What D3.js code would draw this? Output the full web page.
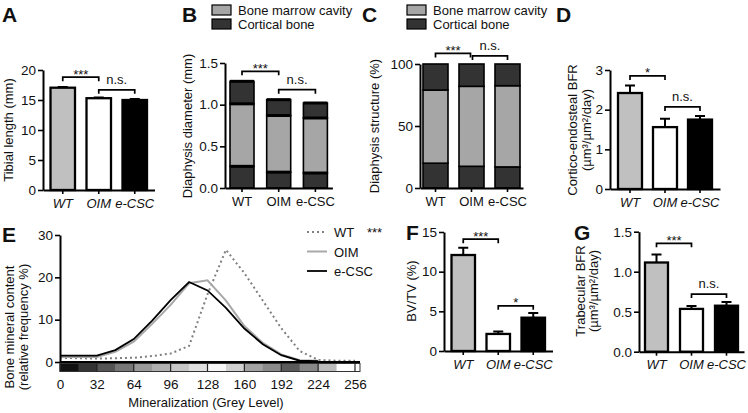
<!DOCTYPE html>
<html><head><meta charset="utf-8">
<script src="https://cdn.jsdelivr.net/npm/d3@7"></script>
<style>
body{margin:0;background:#fff}
svg text{font-family:"Liberation Sans",Arial,sans-serif;fill:#111}
</style>
</head><body>
<svg id="c" width="748" height="413"></svg>
<script>
// ---------- DATA ----------
const groups = ["WT","OIM","e-CSC"];
const groupFill = ["#c0c0c0","#ffffff","#000000"];

// A: tibial length (mm)
const tibialLength = [17.05, 15.3, 15.0];
const tibialErr = [0.1, 0.1, 0.15];
const tibialTicks = [0,5,10,15,20];
const tibialSig = [["WT","OIM","***"],["OIM","e-CSC","n.s."]];

// B: diaphysis diameter (mm) stacked: cortical (inner), marrow cavity, cortical (outer)
const diamCorticalInner = [0.26, 0.19, 0.18];
const diamMarrow = [0.75, 0.68, 0.66];
const diamCorticalOuter = [0.27, 0.19, 0.18];
const diamErr = [0.008, 0.012, 0.006];
const diamTicks = [0,0.5,1.0,1.5];
const diamSig = [["WT","OIM","***"],["OIM","e-CSC","n.s."]];

// C: diaphysis structure (%)
const structCorticalInner = [20, 17.5, 17];
const structMarrow = [59, 64.5, 65.5];
const structCorticalOuter = [21, 18, 17.5];
const structTicks = [0,50,100];
const structSig = [["WT","OIM","***"],["OIM","e-CSC","n.s."]];

// D: cortico-endosteal BFR
const corticalBFR = [2.42, 1.56, 1.75];
const corticalBFRErr = [0.19, 0.21, 0.09];
const corticalBFRTicks = [0,1,2,3];
const corticalBFRSig = [["WT","OIM","*"],["OIM","e-CSC","n.s."]];

// E: bone mineral content histogram
const greyLevels = [0,16,32,48,64,80,96,112,128,144,160,176,192,208,224,240,256];
const wtFreq   = [1.0,0.9,0.8,0.9,1.0,1.4,2.0,3.8,16.0,26.5,21.0,14.5,8.0,2.6,0.5,0.3,0.3];
const oimFreq  = [1.2,1.2,1.2,2.4,4.8,9.0,13.5,18.6,19.3,14.5,8.5,4.5,1.8,0.4,0.3];
const ecscFreq = [1.5,1.5,1.5,2.8,5.4,9.8,14.6,18.9,16.9,12.8,7.9,4.2,1.6,0.3,0.2];
const greyTicks = [0,32,64,96,128,160,192,224,256];
const freqTicks = [0,10,20,30];
const stripGreys = ["#111111","#333333","#555555","#777777","#999999","#b0b0b0","#c6c6c6","#e0e0e0","#f6f6f6","#d0d0d0","#a2a2a2","#8a8a8a","#5a5a5a","#888888","#bcbcbc","#ffffff"];

// F: BV/TV (%)
const bvtv = [12.1, 2.15, 4.2];
const bvtvErr = [0.9, 0.3, 0.6];
const bvtvTicks = [0,5,10,15];
const bvtvSig = [["WT","OIM","***"],["OIM","e-CSC","*"]];

// G: trabecular BFR
const trabBFR = [1.115, 0.535, 0.575];
const trabBFRErr = [0.1, 0.035, 0.045];
const trabBFRTicks = [0,0.5,1.0,1.5];
const trabBFRSig = [["WT","OIM","***"],["OIM","e-CSC","n.s."]];

// ---------- DRAWING ----------
const svg = d3.select("#c");

function band(axisX, firstLeft, step, bw){
  const pi = 1 - bw/step, po = (firstLeft-axisX)/step;
  const r1 = axisX + step*(groups.length - pi + 2*po);
  return d3.scaleBand().domain(groups).range([axisX, r1]).paddingInner(pi).paddingOuter(po);
}
function styleAxis(sel){
  sel.select(".domain").attr("stroke","#000").attr("stroke-width",2);
  sel.selectAll(".tick line").attr("stroke","#000").attr("stroke-width",1.6);
  sel.selectAll(".tick text").style("font-size","13.5px").attr("fill","#111");
}
function axes(g, x, y, ticks, fmt, italic){
  const ya = g.append("g").attr("transform",`translate(${x.range()[0]},0)`)
    .call(d3.axisLeft(y).tickValues(ticks).tickFormat(fmt).tickSize(5).tickSizeOuter(0).tickPadding(2));
  styleAxis(ya);
  const xa = g.append("g").attr("transform",`translate(0,${y(0)})`)
    .call(d3.axisBottom(x).tickSize(4).tickSizeOuter(0).tickPadding(4.5));
  styleAxis(xa);
  xa.selectAll(".tick text").style("font-size","13px").style("font-style", italic ? "italic":"normal");
}
function yTitle(g, lines, xs, cy){
  lines.forEach((t,i)=>{
    g.append("text").attr("transform",`translate(${xs[i]},${cy}) rotate(-90)`)
      .attr("text-anchor","middle").style("font-size","13px").text(t);
  });
}
function letter(t, x, y){
  svg.append("text").attr("x",x).attr("y",y).style("font-size","21px").style("font-weight","bold").attr("fill","#000").text(t);
}
function bracket(g, x, y, a, b, label, level, d1=0, d2=0){
  const x1 = x(a)+x.bandwidth()/2+d1, x2 = x(b)+x.bandwidth()/2+d2, yb = y(level);
  g.append("path").attr("d",`M${x1},${yb+4}V${yb}H${x2}V${yb+4}`)
    .attr("fill","none").attr("stroke","#000").attr("stroke-width",1.7);
  const star = label.includes("*");
  g.append("text").attr("x",(x1+x2)/2).attr("y", star ? yb+1.5 : yb-6)
    .attr("text-anchor","middle").style("font-size","13px").text(label);
}
function simpleBars(g, x, y, vals, errs){
  groups.forEach((k,i)=>{
    const cx = x(k)+x.bandwidth()/2;
    g.append("path").attr("d",`M${cx},${y(vals[i])}V${y(vals[i]+errs[i])}M${cx-5},${y(vals[i]+errs[i])}H${cx+5}`)
      .attr("stroke","#000").attr("stroke-width",2).attr("fill","none");
  });
  g.selectAll(null).data(vals).join("rect")
    .attr("x",(d,i)=>x(groups[i])).attr("width",x.bandwidth())
    .attr("y",d=>y(d)).attr("height",d=>y(0)-y(d))
    .attr("fill",(d,i)=>groupFill[i]).attr("stroke","#000").attr("stroke-width",2.3);
}
function stackedBars(g, x, y, layers, colors, errs){
  const rows = groups.map((k,i)=>({key:k, a:layers[0][i], b:layers[1][i], c:layers[2][i]}));
  const stack = d3.stack().keys(["a","b","c"])(rows);
  stack.forEach((layer,li)=>{
    g.selectAll(null).data(layer).join("rect")
      .attr("x",d=>x(d.data.key)).attr("width",x.bandwidth())
      .attr("y",d=>y(d[1])).attr("height",d=>y(d[0])-y(d[1]))
      .attr("fill",colors[li]).attr("stroke","#000").attr("stroke-width",1.6);
  });
  if(errs){
    stack.forEach(layer=>{
      g.selectAll(null).data(layer).join("rect")
        .attr("x",d=>x(d.data.key)).attr("width",x.bandwidth())
        .attr("y",(d,i)=>Math.min(y(d[1]+errs[i]), y(d[1])-1.5))
        .attr("height",(d,i)=>Math.max(y(d[1]-errs[i])-y(d[1]+errs[i]),3))
        .attr("fill","#000");
    });
  }
}
function legendBoxes(x, y0, dy){
  [["Bone marrow cavity","#a6a6a6"],["Cortical bone","#333333"]].forEach((d,i)=>{
    svg.append("rect").attr("x",x).attr("y",y0+i*dy).attr("width",19).attr("height",10)
      .attr("fill",d[1]).attr("stroke","#000").attr("stroke-width",1.2);
    svg.append("text").attr("x",x+26).attr("y",y0+i*dy+10).style("font-size","13px").text(d[0]);
  });
}

// ---- A ----
{
  const g = svg.append("g");
  const x = band(43, 50.5, 36, 24.5);
  const y = d3.scaleLinear().domain([0,20]).range([190,70]);
  simpleBars(g, x, y, tibialLength, tibialErr);
  axes(g, x, y, tibialTicks, d3.format("d"), true);
  yTitle(g, ["Tibial length (mm)"], [13], 130);
  bracket(g, x, y, ...tibialSig[0], 18.8);
  bracket(g, x, y, ...tibialSig[1], 16.7);
  letter("A", 2, 22);
}
// ---- B ----
{
  const g = svg.append("g");
  const x = band(225, 230, 36.7, 24);
  const y = d3.scaleLinear().domain([0,1.5]).range([188,63]);
  stackedBars(g, x, y, [diamCorticalInner, diamMarrow, diamCorticalOuter], ["#333333","#a6a6a6","#333333"], diamErr);
  axes(g, x, y, diamTicks, d3.format(".1f"), false);
  yTitle(g, ["Diaphysis diameter (mm)"], [192], 126);
  bracket(g, x, y, ...diamSig[0], 1.40);
  bracket(g, x, y, ...diamSig[1], 1.18);
  letter("B", 182, 22);
  legendBoxes(212, 5, 14);
}
// ---- C ----
{
  const g = svg.append("g");
  const x = band(420, 423, 36, 25);
  const y = d3.scaleLinear().domain([0,100]).range([188,64]);
  stackedBars(g, x, y, [structCorticalInner, structMarrow, structCorticalOuter], ["#333333","#a6a6a6","#333333"], null);
  axes(g, x, y, structTicks, d3.format("d"), false);
  yTitle(g, ["Diaphysis structure (%)"], [379], 126);
  bracket(g, x, y, ...structSig[0], 108.5, 0, -1);
  bracket(g, x, y, ...structSig[1], 106.5, 1, 0);
  letter("C", 362, 22);
  legendBoxes(407, 5, 14);
}
// ---- D ----
{
  const g = svg.append("g");
  const x = band(610, 618, 35, 24);
  const y = d3.scaleLinear().domain([0,3]).range([189,70]);
  simpleBars(g, x, y, corticalBFR, corticalBFRErr);
  axes(g, x, y, corticalBFRTicks, d3.format("d"), true);
  yTitle(g, ["Cortico-endosteal BFR","(µm³/µm²/day)"], [577,591], 130);
  bracket(g, x, y, ...corticalBFRSig[0], 2.85);
  bracket(g, x, y, ...corticalBFRSig[1], 2.07);
  letter("D", 556, 22);
}
// ---- E ----
{
  const g = svg.append("g");
  const x = d3.scaleLinear().domain([0,256]).range([60,355]);
  const y = d3.scaleLinear().domain([0,30]).range([362,235]);
  // grey-level strip
  const stripTop = 363.5, stripH = 8;
  g.selectAll(null).data(stripGreys).join("rect")
    .attr("x",(d,i)=>x(i*16)).attr("width",(d,i)=> i===stripGreys.length-1 ? x(16)-x(0)+5 : x(16)-x(0)+0.5)
    .attr("y",stripTop).attr("height",stripH).attr("fill",d=>d);
  g.append("rect").attr("x",x(0)).attr("y",stripTop).attr("width",x(256)+5-x(0)).attr("height",stripH)
    .attr("fill","none").attr("stroke","#333").attr("stroke-width",1);
  g.selectAll(null).data(greyTicks).join("line")
    .attr("x1",d=>x(d)).attr("x2",d=>x(d)).attr("y1",stripTop).attr("y2",stripTop+stripH)
    .attr("stroke","#222").attr("stroke-width",1.2);
  // lines
  const line = d3.line().x((d,i)=>x(greyLevels[i])).y(d=>y(d));
  g.append("path").attr("d",line(wtFreq)).attr("fill","none").attr("stroke","#808080")
    .attr("stroke-width",2).attr("stroke-dasharray","2,3");
  g.append("path").attr("d",line(oimFreq)).attr("fill","none").attr("stroke","#a8a8a8").attr("stroke-width",2);
  g.append("path").attr("d",line(ecscFreq)).attr("fill","none").attr("stroke","#000").attr("stroke-width",1.8);
  // axes
  const ya = g.append("g").attr("transform",`translate(${x(0)},0)`)
    .call(d3.axisLeft(y).tickValues(freqTicks).tickSize(5).tickSizeOuter(0).tickPadding(2));
  styleAxis(ya);
  g.append("line").attr("x1",x(0)).attr("x2",x(256)+5).attr("y1",y(0)).attr("y2",y(0))
    .attr("stroke","#000").attr("stroke-width",2.2);
  const xa = g.append("g").attr("transform",`translate(0,${y(0)})`)
    .call(d3.axisBottom(x).tickValues(greyTicks).tickSize(0).tickPadding(17));
  styleAxis(xa);
  xa.select(".domain").remove();
  g.append("text").attr("x",206).attr("y",407).attr("text-anchor","middle").style("font-size","13px")
    .text("Mineralization (Grey Level)");
  yTitle(g, ["Bone mineral content","(relative frequency %)"], [14,28], 327);
  // legend
  const leg = [["WT","#808080","2,3",2],["OIM","#a8a8a8",null,2],["e-CSC","#000",null,1.8]];
  leg.forEach((d,i)=>{
    const ly = 232 + i*19.5;
    g.append("line").attr("x1",307).attr("x2",327).attr("y1",ly).attr("y2",ly)
      .attr("stroke",d[1]).attr("stroke-width",d[3]).attr("stroke-dasharray",d[2]);
    g.append("text").attr("x",334).attr("y",ly+5).style("font-size","13px").text(d[0]);
  });
  g.append("text").attr("x",367).attr("y",237).style("font-size","13px").text("***");
  letter("E", 2, 242);
}
// ---- F ----
{
  const g = svg.append("g");
  const x = band(444, 451.5, 35, 23.5);
  const y = d3.scaleLinear().domain([0,15]).range([351,232]);
  simpleBars(g, x, y, bvtv, bvtvErr);
  axes(g, x, y, bvtvTicks, d3.format("d"), true);
  yTitle(g, ["BV/TV (%)"], [416], 291);
  bracket(g, x, y, ...bvtvSig[0], 14.1);
  bracket(g, x, y, ...bvtvSig[1], 5.7);
  letter("F", 406, 240);
}
// ---- G ----
{
  const g = svg.append("g");
  const x = band(639, 645, 35, 23);
  const y = d3.scaleLinear().domain([0,1.5]).range([351.7,231.7]);
  simpleBars(g, x, y, trabBFR, trabBFRErr);
  axes(g, x, y, trabBFRTicks, d3.format(".1f"), true);
  yTitle(g, ["Trabecular BFR","(µm³/µm²/day)"], [585,598], 291);
  bracket(g, x, y, ...trabBFRSig[0], 1.355);
  bracket(g, x, y, ...trabBFRSig[1], 0.72);
  letter("G", 574, 240);
}
</script>
</body></html>
